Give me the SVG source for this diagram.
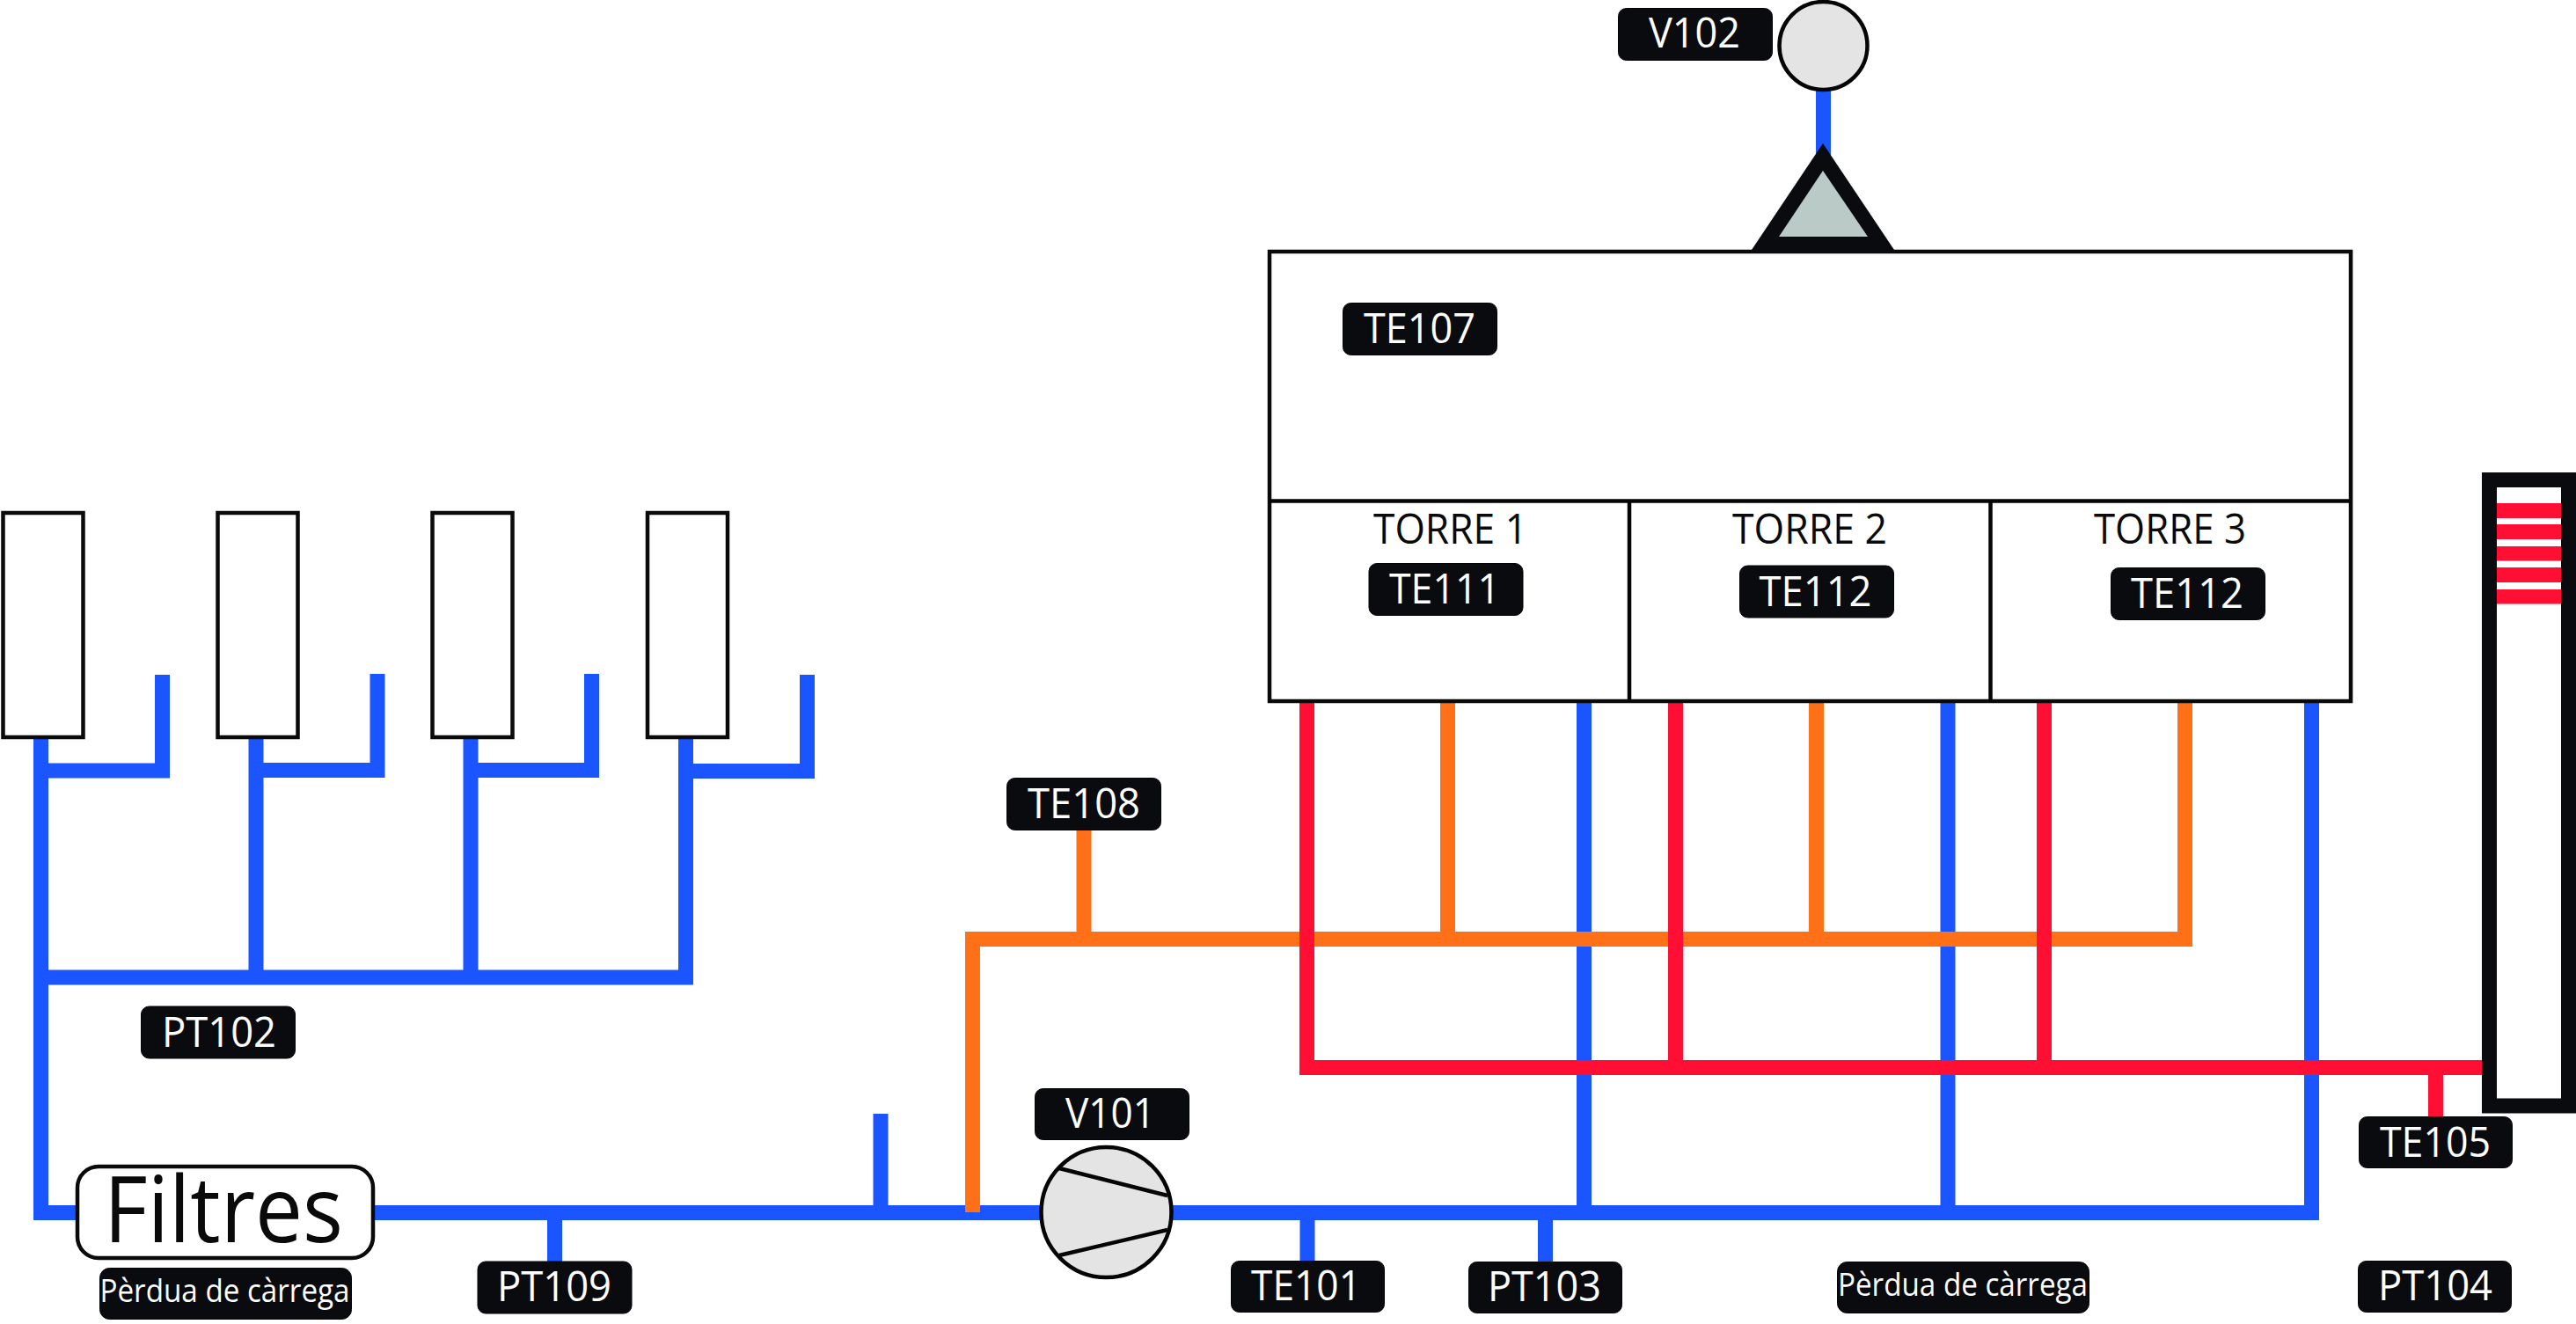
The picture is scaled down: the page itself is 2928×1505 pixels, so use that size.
<svg xmlns="http://www.w3.org/2000/svg" width="2928" height="1505" viewBox="0 0 2928 1505">
<style>
.p{fill:none;stroke-width:17;stroke-linejoin:miter}
.b{stroke:#1a55ff}.o{stroke:#ff7017}.r{stroke:#ff0f33}
.s{fill:#fff;stroke:#0a0a0a;stroke-width:4.5}
.l{fill:#0a0b0f;stroke:#050507;stroke-width:1}
text{font-family:"Open Sans","Noto Sans","Liberation Sans",sans-serif}
.t{fill:#fff;font-size:47px}
.k{fill:#0a0a0a;font-size:47px}
.m{fill:#fff;font-size:36px}
.stripe{fill:#ff0f33}
.e{fill:#e4e4e4;stroke:#050505;stroke-width:4.5}
.e2{stroke:#050505;stroke-width:4.5;fill:none}
</style>
<rect width="2928" height="1505" fill="#fff"/>
<g id="connectors">
<path class="p b" d="M46.5 838V1378.5H2627.5V797"/>
<path class="p b" d="M46.5 876H184.5V767"/>
<path class="p b" d="M46.5 1111H779.5V838"/>
<path class="p b" d="M291 838V1111"/>
<path class="p b" d="M291 875.5H429V766"/>
<path class="p b" d="M535 838V1111"/>
<path class="p b" d="M535 875.5H672.5V766"/>
<path class="p b" d="M779.5 876.5H917.5V767"/>
<path class="p b" d="M1001 1266V1378"/>
<path class="p b" d="M630.5 1378V1436"/>
<path class="p b" d="M1486 1378V1435"/>
<path class="p b" d="M1756.5 1378V1436"/>
<path class="p b" d="M1800.5 797V1378"/>
<path class="p b" d="M2214 797V1378"/>
<path class="p b" d="M2072.5 100V180"/>
<path class="p o" d="M1105.5 1378V1067.5H2483.5V797"/>
<path class="p o" d="M1232 942V1067"/>
<path class="p o" d="M1645.5 797V1067"/>
<path class="p o" d="M2064.5 797V1067"/>
<path class="p r" d="M1485.5 797V1213.5H2823"/>
<path class="p r" d="M1904.5 797V1213"/>
<path class="p r" d="M2323.5 797V1213"/>
<path class="p r" d="M2768.5 1213V1271"/>
</g>
<g id="tank-1"><rect class="s" x="3.5" y="583" width="91" height="255"/></g>
<g id="tank-2"><rect class="s" x="247.5" y="583" width="91" height="255"/></g>
<g id="tank-3"><rect class="s" x="491.5" y="583" width="91" height="255"/></g>
<g id="tank-4"><rect class="s" x="736" y="583" width="91" height="255"/></g>
<g id="tower">
<rect class="s" x="1443" y="286" width="1229" height="511"/>
<path class="e2" d="M1443 569.5H2672M1852 569.5V797M2262.5 569.5V797"/>
<text class="k" x="1561" y="617.5" textLength="175" lengthAdjust="spacingAndGlyphs">TORRE 1</text>
<text class="k" x="1969" y="617.5" textLength="176" lengthAdjust="spacingAndGlyphs">TORRE 2</text>
<text class="k" x="2380" y="617.5" textLength="173" lengthAdjust="spacingAndGlyphs">TORRE 3</text>
</g>
<g id="te107"><rect class="l" x="1526.5" y="344.5" width="175" height="59" rx="9"/><text class="t" x="1550" y="390" textLength="127" lengthAdjust="spacingAndGlyphs">TE107</text></g>
<g id="te111"><rect class="l" x="1556" y="640.500" width="175" height="59" rx="9"/><text class="t" x="1579" y="686" textLength="126" lengthAdjust="spacingAndGlyphs">TE111</text></g>
<g id="te112-a"><rect class="l" x="1977.500" y="643" width="175" height="59" rx="9"/><text class="t" x="1999.500" y="688.500" textLength="128" lengthAdjust="spacingAndGlyphs">TE112</text></g>
<g id="te112-b"><rect class="l" x="2399.500" y="645.500" width="175" height="59" rx="9"/><text class="t" x="2422" y="691" textLength="128" lengthAdjust="spacingAndGlyphs">TE112</text></g>
<g id="v102-vessel">
<circle class="e" cx="2072.500" cy="52" r="50"/>
<path d="M2072 163L2155.700 288H1988.300Z" fill="#0a0b0f"/>
<path d="M2072 194L2022 269H2123Z" fill="#bacac7"/>
</g>
<g id="v102"><rect class="l" x="1839.500" y="9.500" width="175" height="59" rx="9"/><text class="t" x="1874" y="54" textLength="104" lengthAdjust="spacingAndGlyphs">V102</text></g>
<g id="te108"><rect class="l" x="1144.500" y="884.500" width="175" height="59" rx="9"/><text class="t" x="1168" y="930" textLength="128" lengthAdjust="spacingAndGlyphs">TE108</text></g>
<g id="pt102"><rect class="l" x="160.500" y="1144" width="175" height="59" rx="9"/><text class="t" x="184" y="1190" textLength="130" lengthAdjust="spacingAndGlyphs">PT102</text></g>
<g id="filtres">
<rect class="s" x="88" y="1326" width="336" height="104" rx="24"/>
<text x="118" y="1412" font-size="104" fill="#0a0a0a" textLength="272" lengthAdjust="spacingAndGlyphs">Filtres</text>
</g>
<g id="perdua-1"><rect class="l" x="113.500" y="1441.500" width="286" height="58" rx="11"/><text class="m" x="113.500" y="1480" textLength="284" lengthAdjust="spacingAndGlyphs">Pèrdua de càrrega</text></g>
<g id="pt109"><rect class="l" x="543" y="1434" width="175" height="59" rx="9"/><text class="t" x="565" y="1479" textLength="130" lengthAdjust="spacingAndGlyphs">PT109</text></g>
<g id="v101"><rect class="l" x="1176.500" y="1237.500" width="175" height="58" rx="9"/><text class="t" x="1211" y="1282" textLength="102" lengthAdjust="spacingAndGlyphs">V101</text></g>
<g id="pump">
<circle class="e" cx="1257.500" cy="1378" r="74"/>
<path class="e2" d="M1204 1328L1327 1359M1204 1427L1327 1398"/>
</g>
<g id="te101"><rect class="l" x="1399.500" y="1433.500" width="174" height="58" rx="9"/><text class="t" x="1422" y="1478" textLength="125" lengthAdjust="spacingAndGlyphs">TE101</text></g>
<g id="pt103"><rect class="l" x="1669.500" y="1434.500" width="174" height="58" rx="9"/><text class="t" x="1691" y="1479" textLength="129" lengthAdjust="spacingAndGlyphs">PT103</text></g>
<g id="perdua-2"><rect class="l" x="2088.500" y="1434.500" width="286" height="58" rx="11"/><text class="m" x="2089" y="1473" textLength="284" lengthAdjust="spacingAndGlyphs">Pèrdua de càrrega</text></g>
<g id="te105"><rect class="l" x="2681.500" y="1269.500" width="174" height="58" rx="9"/><text class="t" x="2705" y="1315" textLength="126" lengthAdjust="spacingAndGlyphs">TE105</text></g>
<g id="pt104"><rect class="l" x="2680.500" y="1433.500" width="174" height="58" rx="9"/><text class="t" x="2703" y="1478" textLength="130" lengthAdjust="spacingAndGlyphs">PT104</text></g>
<g id="level-tube">
<rect x="2829.500" y="545.500" width="90" height="711.500" fill="#fff" stroke="#0a0b0f" stroke-width="17"/>
<rect class="stripe" x="2838" y="572" width="73" height="17"/>
<rect class="stripe" x="2838" y="596" width="73" height="17"/>
<rect class="stripe" x="2838" y="621" width="73" height="16.500"/>
<rect class="stripe" x="2838" y="645" width="73" height="17"/>
<rect class="stripe" x="2838" y="670" width="73" height="16.500"/>
</g>
</svg>
